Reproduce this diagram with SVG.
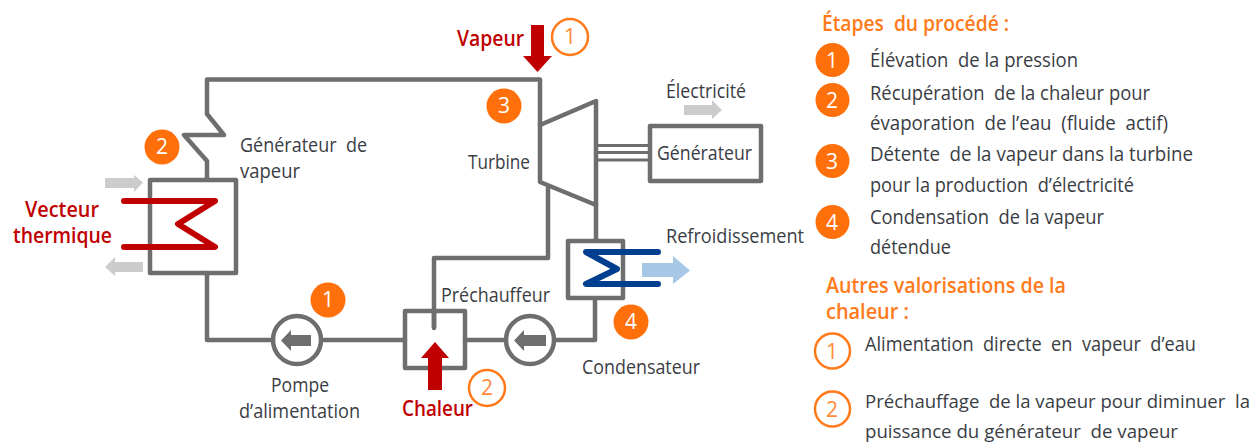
<svg xmlns="http://www.w3.org/2000/svg" width="1260" height="443" viewBox="0 0 1260 443">
<style>
text{font-family:"Open Sans","Noto Sans",sans-serif;font-size:20px;fill:#3a3d44;white-space:pre}
.o{fill:#ff6f0a}.r{fill:#c00000;font-weight:600;font-size:21px}.ob{fill:#ff7a1a;font-weight:600;font-size:21px}
.w{fill:#fff;text-anchor:middle;font-size:21px}.on{fill:#ff8a3a;text-anchor:middle;font-size:21px}
.sm{font-size:18.500px}
.ln{fill:none;stroke:#6e6e6e;stroke-width:4.500;stroke-linejoin:round;stroke-linecap:round}
.box{fill:#fff;stroke:#6e6e6e;stroke-width:4.500;stroke-linejoin:round}
.hot{fill:none;stroke:#c00000;stroke-width:6;stroke-linejoin:round;stroke-linecap:round}
.cold{fill:none;stroke:#003f8f;stroke-width:6;stroke-linejoin:round;stroke-linecap:round}
.hc{fill:none;stroke:#ff7a1a;stroke-width:2.500}
</style>
<g id="connectors">
<path class="ln" d="M207 179V161L184 135H224L207 114V79.500H540V125"/>
<path class="ln" d="M207 273V340H405M465 340H595V298"/>
<path class="ln" d="M596 205V241"/>
<path class="ln" d="M548 188V258H434V328"/>
<path d="M596 145.500H650M596 152.500H650M596 160H650" fill="none" stroke="#6e6e6e" stroke-width="3"/>
</g>
<g id="generateur-vapeur">
<rect class="box" x="150" y="180" width="86" height="93" style="fill:none"/>
<path class="hot" d="M124 201H215L178 224L215 247H124"/>
<path fill="#cccccc" d="M105 178H134V175L143 182.500L134 192V188H105Z"/>
<path fill="#cccccc" d="M143 262H115V257L105 267L115 276V272H143Z"/>
<text x="240" y="152" textLength="127" lengthAdjust="spacingAndGlyphs">Générateur  de</text>
<text x="240" y="178" textLength="60" lengthAdjust="spacingAndGlyphs">vapeur</text>
<text class="r" x="25" y="217" textLength="74" lengthAdjust="spacingAndGlyphs">Vecteur</text>
<text class="r" x="13" y="243" textLength="99" lengthAdjust="spacingAndGlyphs">thermique</text>
</g>
<g id="turbine">
<path class="box" d="M540 125L596 101V205L540 182Z"/>
<text x="468" y="169" textLength="62" lengthAdjust="spacingAndGlyphs">Turbine</text>
</g>
<g id="vapeur">
<path fill="#c00000" d="M531 25H544V56H552L537.500 72L523 56H531Z"/>
<text class="r" x="457" y="46" textLength="67" lengthAdjust="spacingAndGlyphs">Vapeur</text>
<circle class="hc" cx="570" cy="37" r="18"/>
<text class="on" x="570" y="44">1</text>
</g>
<g id="generateur">
<rect class="box" x="650" y="126" width="111" height="55"/>
<text x="657" y="160" textLength="95" lengthAdjust="spacingAndGlyphs">Générateur</text>
<text x="666" y="98" textLength="80" lengthAdjust="spacingAndGlyphs">Électricité</text>
<path fill="#cccccc" d="M684 105H712V100L722 110L712 119V115H684Z"/>
</g>
<g id="condenseur">
<rect class="box" x="568" y="241" width="55" height="57"/>
<path class="cold" d="M658 252H586L617 269L586 284H658"/>
<path fill="#a6c8e6" d="M642 263H673V256L690 270.500L673 284V277H642Z"/>
<text x="666" y="243" textLength="138" lengthAdjust="spacingAndGlyphs">Refroidissement</text>
<text x="582" y="374" textLength="118" lengthAdjust="spacingAndGlyphs">Condensateur</text>
</g>
<g id="pompe-alimentation">
<circle class="box" cx="297" cy="340" r="24"/>
<path fill="#6e6e6e" d="M311 335V346H291V351L281 340.500L291 330V335Z"/>
<text x="271" y="392" textLength="58" lengthAdjust="spacingAndGlyphs">Pompe</text>
<text x="239" y="418" textLength="121" lengthAdjust="spacingAndGlyphs">d’alimentation</text>
</g>
<g id="pompe-condensat">
<circle class="box" cx="530" cy="340" r="24"/>
<path fill="#6e6e6e" d="M546 335V346H524V351L514 340.500L524 330V335Z"/>
</g>
<g id="prechauffeur">
<rect class="box" x="405" y="311" width="60" height="57" style="fill:none"/>
<path class="ln" d="M434 311V327"/>
<path fill="#c00000" d="M428 390V358H421L435 342L449 358H442V390Z"/>
<text x="441" y="302" textLength="109" lengthAdjust="spacingAndGlyphs">Préchauffeur</text>
<text class="r" x="402" y="416" textLength="71" lengthAdjust="spacingAndGlyphs">Chaleur</text>
<circle class="hc" cx="487" cy="388" r="18"/>
<text class="on" x="487" y="395">2</text>
</g>
<g id="badges-schema">
<circle class="o" cx="162" cy="147" r="17.500"/><text class="w" x="162" y="154">2</text>
<circle class="o" cx="504" cy="106" r="17.500"/><text class="w" x="504" y="113">3</text>
<circle class="o" cx="328" cy="300" r="17.500"/><text class="w" x="328" y="307">1</text>
<circle class="o" cx="631" cy="322" r="17.500"/><text class="w" x="631" y="329">4</text>
</g>
<g id="etapes">
<text class="ob" x="822" y="31" textLength="187" lengthAdjust="spacingAndGlyphs">Étapes  du procédé :</text>
<circle class="o" cx="832.500" cy="60" r="17"/><text class="w" x="832" y="68">1</text>
<text x="870" y="67" textLength="208" lengthAdjust="spacingAndGlyphs">Élévation  de la pression</text>
<circle class="o" cx="832.500" cy="100" r="17"/><text class="w" x="832" y="108">2</text>
<text x="870" y="100" textLength="280" lengthAdjust="spacingAndGlyphs">Récupération  de la chaleur pour</text>
<text x="870" y="130" textLength="298" lengthAdjust="spacingAndGlyphs">évaporation  de l’eau  (fluide  actif)</text>
<circle class="o" cx="832.500" cy="161" r="17"/><text class="w" x="832" y="169">3</text>
<text x="870" y="161" textLength="323" lengthAdjust="spacingAndGlyphs">Détente  de la vapeur dans la turbine</text>
<text x="870" y="192" textLength="264" lengthAdjust="spacingAndGlyphs">pour la production  d’électricité</text>
<circle class="o" cx="832.500" cy="222" r="17"/><text class="w" x="832" y="230">4</text>
<text x="870" y="224" textLength="234" lengthAdjust="spacingAndGlyphs">Condensation  de la vapeur</text>
<text x="870" y="254" textLength="81" lengthAdjust="spacingAndGlyphs">détendue</text>
</g>
<g id="valorisations">
<text class="ob" x="826" y="293" textLength="240" lengthAdjust="spacingAndGlyphs">Autres valorisations de la</text>
<text class="ob" x="826" y="319" textLength="83" lengthAdjust="spacingAndGlyphs">chaleur :</text>
<circle class="hc" cx="832.500" cy="351" r="17.500"/><text class="on" x="832" y="359">1</text>
<text x="865" y="351" textLength="331" lengthAdjust="spacingAndGlyphs">Alimentation  directe  en  vapeur  d’eau</text>
<circle class="hc" cx="832.500" cy="409" r="17.500"/><text class="on" x="832" y="417">2</text>
<text class="sm" x="865" y="408" textLength="385" lengthAdjust="spacingAndGlyphs">Préchauffage  de la vapeur pour diminuer  la</text>
<text class="sm" x="865" y="438" textLength="313" lengthAdjust="spacingAndGlyphs">puissance du générateur  de vapeur</text>
</g>
</svg>
